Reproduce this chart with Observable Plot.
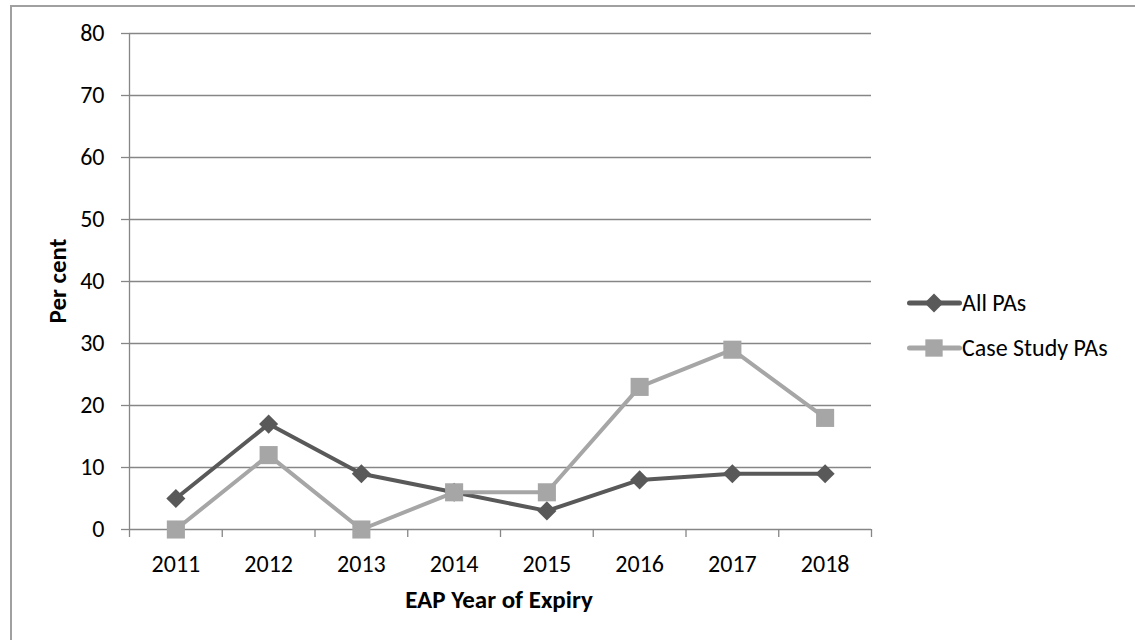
<!DOCTYPE html>
<html>
<head>
<meta charset="utf-8">
<script src="https://cdn.jsdelivr.net/npm/d3@7"></script>
<script src="https://cdn.jsdelivr.net/npm/@observablehq/plot@0.6"></script>
<style>
  html, body { margin: 0; padding: 0; background: #fff; overflow: hidden; }
  #wrap { position: relative; width: 1135px; height: 640px; font-family: Carlito, Lato, sans-serif; }
  #frame { position: absolute; left: 10px; top: 5px; width: 1200px; height: 700px;
           border-left: 2px solid #a0a0a0; border-top: 2px solid #a0a0a0; pointer-events: none; }
  #chart { position: absolute; left: 0; top: 0; }
  .title { position: absolute; font-weight: bold; font-size: 25px; color: #000; white-space: nowrap; line-height: 1; }
  #ytitle { left: 57px; top: 281px; transform: translate(-50%, -50%) rotate(-90deg); }
  #xtitle { left: 499px; top: 599px; transform: translate(-50%, -50%); }
  #legend { position: absolute; left: 907px; top: 280px; font-size: 24px; }
  .item { display: flex; align-items: center; height: 45px; }
  .item svg { display: block; }
</style>
</head>
<body>
<div id="wrap">
  <div id="chart"></div>
  <div id="ytitle" class="title">Per cent</div>
  <div id="xtitle" class="title">EAP Year of Expiry</div>
  <div id="legend"></div>
  <div id="frame"></div>
</div>
<script>
// Share of protected areas whose EAP expires in each year
const years = ["2011", "2012", "2013", "2014", "2015", "2016", "2017", "2018"];
const allPAs = [5, 17, 9, 6, 3, 8, 9, 9];
const caseStudyPAs = [0, 12, 0, 6, 6, 23, 29, 18];
const yTicks = [0, 10, 20, 30, 40, 50, 60, 70, 80];
const seriesNames = ["All PAs", "Case Study PAs"];

const darkGrey = "#595959";
const lightGrey = "#a6a6a6";
const gridGrey = "#868686";

// Rotated-square marker
const diamond = {
  draw(context, size) {
    const r = Math.sqrt(size) * 0.62625;
    context.moveTo(0, -r);
    context.lineTo(r, 0);
    context.lineTo(0, r);
    context.lineTo(-r, 0);
    context.closePath();
  }
};

// Each year sits in the middle of its slot on a continuous x scale
const rows = (values) => values.map((v, i) => ({year: years[i], pos: i + 0.5, value: v}));
const allRows = rows(allPAs);
const caseRows = rows(caseStudyPAs);
const slotEdges = d3.range(years.length + 1);
const slotCenters = years.map((_, i) => i + 0.5);

const plot = Plot.plot({
  width: 1135,
  height: 640,
  marginLeft: 129,
  marginRight: 264,
  marginTop: 33,
  marginBottom: 111,
  style: {background: "transparent", fontFamily: "Carlito, Lato, sans-serif", fontSize: "24px", color: "#000"},
  x: {type: "linear", domain: [0, years.length]},
  y: {domain: [0, 80]},
  marks: [
    Plot.ruleY(yTicks, {x1: 0, x2: years.length, stroke: gridGrey, strokeWidth: 1.3}),
    Plot.ruleX([0], {y1: 0, y2: 80, stroke: gridGrey, strokeWidth: 1.3}),
    Plot.axisY({ticks: yTicks, tickSize: 8, tickPadding: 17, stroke: gridGrey, strokeWidth: 1.3, fill: "#000", label: null, fontSize: 24}),
    Plot.axisX({ticks: slotEdges, tickSize: 8, tickFormat: () => "", stroke: gridGrey, strokeWidth: 1.3, label: null}),
    Plot.axisX({ticks: slotCenters, tickSize: 0, tickPadding: 25, tickFormat: (d) => years[Math.round(d - 0.5)], fill: "#000", label: null, fontSize: 24}),
    Plot.line(allRows, {x: "pos", y: "value", stroke: darkGrey, strokeWidth: 4, strokeLinejoin: "round", strokeLinecap: "round"}),
    Plot.dot(allRows, {x: "pos", y: "value", symbol: diamond, r: 8.6, fill: darkGrey, stroke: "none"}),
    Plot.line(caseRows, {x: "pos", y: "value", stroke: lightGrey, strokeWidth: 4, strokeLinejoin: "round", strokeLinecap: "round"}),
    Plot.dot(caseRows, {x: "pos", y: "value", symbol: "square", r: 10.2, fill: lightGrey, stroke: "none"})
  ]
});
document.getElementById("chart").appendChild(plot);

// Legend: line + marker swatch followed by the series name
const legend = d3.select("#legend");
const swatchSymbols = [d3.symbol(diamond, 230), d3.symbol(d3.symbolSquare, 300)];
const swatchColors = [darkGrey, lightGrey];
seriesNames.forEach((name, i) => {
  const item = legend.append("div").attr("class", "item");
  const svg = item.append("svg").attr("width", 55).attr("height", 20);
  svg.append("line").attr("x1", 2.5).attr("x2", 52.5).attr("y1", 10).attr("y2", 10)
    .attr("stroke", swatchColors[i]).attr("stroke-width", 5).attr("stroke-linecap", "round");
  svg.append("path").attr("transform", "translate(27,10)").attr("d", swatchSymbols[i]()).attr("fill", swatchColors[i]);
  item.append("span").text(name);
});
</script>
</body>
</html>
